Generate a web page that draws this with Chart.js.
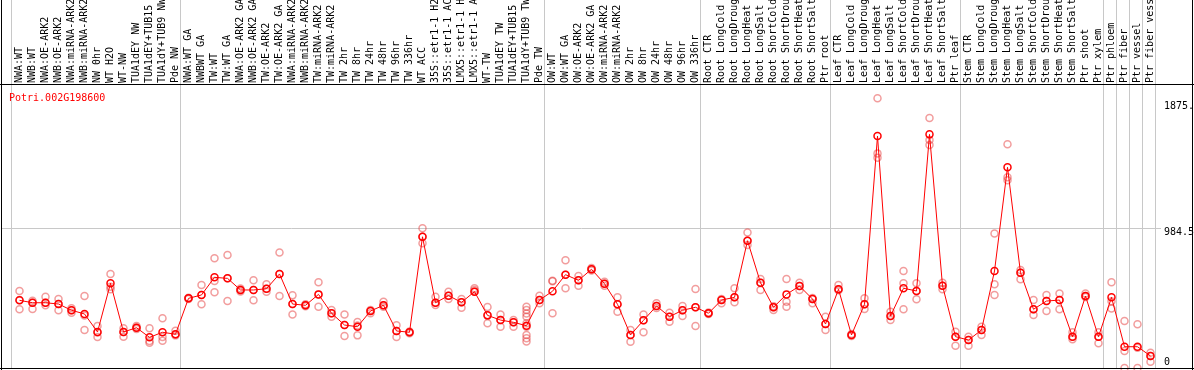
<!DOCTYPE html>
<html>
<head>
<meta charset="utf-8">
<script src="https://cdn.jsdelivr.net/npm/chart.js@4/dist/chart.umd.min.js"></script>
<style>
  body { margin: 0; background: #fff; }
  canvas { display: block; }
</style>
</head>
<body>
<canvas id="myChart" width="1194" height="370"></canvas>
<script>
// sample names (header)
const categories = [
  'NWA:WT', 'NWB:WT', 'NWA:OE-ARK2', 'NWB:OE-ARK2', 'NWA:miRNA-ARK2', 'NWB:miRNA-ARK2',
  'NW 0hr', 'WT H2O', 'WT-NW', 'TUA1dEY NW', 'TUA1dEY+TUB15', 'TUA1dY+TUB9 NW', 'Pde NW',
  'NWA:WT GA', 'NWBWT GA', 'TW:WT', 'TW:WT GA', 'NWA:OE-ARK2 GA', 'NWB:OE-ARK2 GA',
  'TW:OE-ARK2', 'TW:OE-ARK2 GA', 'NWA:miRNA-ARK2', 'NWB:miRNA-ARK2', 'TW:miRNA-ARK2', 'TW:miRNA-ARK2',
  'TW 2hr', 'TW 8hr', 'TW 24hr', 'TW 48hr', 'TW 96hr', 'TW 336hr', 'WT ACC',
  '35S::etr1-1 H2O', '35S::etr1-1 ACC', 'LMX5::etr1-1 H2O', 'LMX5::etr1-1 ACC',
  'WT-TW', 'TUA1dEY TW', 'TUA1dEY+TUB15', 'TUA1dY+TUB9 TW', 'Pde TW',
  'OW:WT', 'OW:WT GA', 'OW:OE-ARK2', 'OW:OE-ARK2 GA', 'OW:miRNA-ARK2', 'OW:miRNA-ARK2',
  'OW 2hr', 'OW 8hr', 'OW 24hr', 'OW 48hr', 'OW 96hr', 'OW 336hr',
  'Root CTR', 'Root LongCold', 'Root LongDrought', 'Root LongHeat', 'Root LongSalt',
  'Root ShortCold', 'Root ShortDrought', 'Root ShortHeat', 'Root ShortSalt', 'Ptr root',
  'Leaf CTR', 'Leaf LongCold', 'Leaf LongDrought', 'Leaf LongHeat', 'Leaf LongSalt',
  'Leaf ShortCold', 'Leaf ShortDrought', 'Leaf ShortHeat', 'Leaf ShortSalt', 'Ptr leaf',
  'Stem CTR', 'Stem LongCold', 'Stem LongDrought', 'Stem LongHeat', 'Stem LongSalt',
  'Stem ShortCold', 'Stem ShortDrought', 'Stem ShortHeat', 'Stem ShortSalt', 'Ptr shoot', 'Ptr xylem',
  'Ptr phloem', 'Ptr fiber', 'Ptr vessel', 'Ptr fiber vessel'
];

// mean expression per sample
const meanValues = [
  477, 460, 460, 451, 407, 381, 254, 597, 254, 284, 216, 252, 238,
  491, 515, 639, 632, 550, 550, 559, 663, 451, 442, 519, 386, 303, 291, 402, 442, 261, 252, 925,
  460, 510, 463, 538, 371, 338, 322, 298,
  479, 541, 658, 618, 696, 594, 449, 233, 336, 437, 362, 407, 428,
  386, 479, 498, 897, 601, 428, 519, 578, 486, 310,
  555, 233, 449, 1635, 366, 562, 543, 1647, 580, 221,
  197, 268, 684, 1415, 672, 414, 472, 479, 221, 507, 221,
  498, 150, 150, 85
];

// individual replicates per sample
const replicates = [
  [543, 479, 414], [474, 460, 416], [503, 460, 442], [486, 451, 407], [421, 407, 390],
  [507, 370, 268], [296, 250, 218], [663, 573, 555], [280, 254, 221], [296, 284, 275],
  [280, 190, 178], [350, 218, 192], [263, 238, 230],
  [495, 491, 486], [585, 515, 449], [773, 613, 534], [796, 632, 472], [560, 550, 540],
  [618, 550, 477], [590, 559, 538], [815, 663, 507], [512, 451, 378], [450, 442, 435],
  [604, 519, 432], [409, 386, 362], [378, 303, 226], [324, 300, 230], [409, 402, 386],
  [467, 442, 432], [301, 261, 218], [258, 252, 245], [985, 925, 879], [503, 460, 444],
  [538, 510, 486], [486, 463, 425], [562, 550, 538], [430, 371, 315], [378, 338, 291],
  [338, 322, 291], [432, 409, 385, 362, 315, 291, 233, 209, 186],
  [510, 479, 456], [615, 612, 386], [759, 658, 562], [648, 618, 580], [705, 696, 688],
  [608, 594, 580], [498, 449, 397], [268, 233, 185], [378, 336, 252], [456, 437, 423],
  [390, 362, 326], [437, 407, 366], [557, 428, 296],
  [392, 386, 380], [486, 479, 456], [562, 498, 463], [956, 897, 867], [627, 601, 550],
  [435, 428, 409], [627, 467, 432], [601, 578, 550], [493, 486, 456], [362, 310, 268],
  [585, 555, 548], [240, 233, 226], [491, 449, 416], [1901, 1513, 1482], [397, 366, 338],
  [684, 597, 414], [597, 543, 484], [1762, 1607, 1572], [601, 580, 555], [256, 221, 157],
  [221, 197, 157], [291, 268, 233], [949, 590, 514], [1577, 1345, 1323], [691, 672, 625],
  [479, 414, 374], [514, 472, 402], [526, 479, 414], [252, 221, 202], [526, 507, 500],
  [252, 221, 174],
  [604, 470, 420], [331, 120, 0], [308, 142, 0], [108, 85, 44]
];

const yTickValues = [0, 984.5, 1875];
const yTickLabels = ['0', '984.5', '1875.0'];
const groupStarts = [0, 13, 41, 53, 63, 73, 84, 85, 86, 87, 88];
const geneName = 'Potri.002G198600';

const FONT = '10px "DejaVu Sans Mono", monospace';

let meanPoints = meanValues.map((v, i) => ({ x: i, y: v }));
let repPoints = [];
replicates.forEach((reps, i) => {
  reps.forEach(v => repPoints.push({ x: i, y: v }));
});

// grid, header labels, frame and axis text
let decorations = {
  id: 'decorations',
  beforeDatasetsDraw(chart) {
    let ctx = chart.ctx;
    let xs = chart.scales.x;
    let ys = chart.scales.y;
    ctx.save();
    ctx.strokeStyle = '#c8c8c8';
    ctx.lineWidth = 1;
    groupStarts.forEach(k => {
      let px = Math.round(xs.getPixelForValue(k - 0.5)) - 2 + 0.5;
      ctx.beginPath();
      ctx.moveTo(px, 0);
      ctx.lineTo(px, 368);
      ctx.stroke();
    });
    let gy = Math.round(ys.getPixelForValue(984.5)) + 0.5;
    ctx.beginPath();
    ctx.moveTo(2, gy);
    ctx.lineTo(1161, gy);
    ctx.stroke();
    ctx.restore();
  },
  afterDraw(chart) {
    let ctx = chart.ctx;
    let xs = chart.scales.x;
    let ys = chart.scales.y;
    ctx.save();
    ctx.fillStyle = '#000';
    ctx.font = FONT;
    // rotated sample names in the header
    ctx.textAlign = 'left';
    ctx.textBaseline = 'middle';
    categories.forEach((name, i) => {
      ctx.save();
      ctx.translate(xs.getPixelForValue(i) - 0.5, 83);
      ctx.rotate(-Math.PI / 2);
      ctx.fillText(name, 0, 0);
      ctx.restore();
    });
    // y labels on the right
    yTickValues.forEach((v, i) => {
      let py = ys.getPixelForValue(v) + 4;
      if (py > 362) py = 362;
      ctx.fillText(yTickLabels[i], 1164, py);
    });
    // frame
    ctx.fillRect(1, 0, 1, 370);
    ctx.fillRect(1192, 0, 1, 370);
    ctx.fillRect(0, 84, 1194, 1);
    ctx.fillRect(0, 368, 1194, 1);
    // gene name
    ctx.fillStyle = '#ff0000';
    ctx.fillText(geneName, 9, 98);
    ctx.restore();
  }
};

let ctx = document.getElementById('myChart').getContext('2d');
let chart = new Chart(ctx, {
  type: 'line',
  data: {
    datasets: [{
      label: 'mean',
      data: meanPoints,
      borderColor: '#ff0000',
      borderWidth: 1,
      pointRadius: 3.5,
      pointBorderWidth: 1.5,
      pointBorderColor: '#ff0000',
      pointBackgroundColor: 'rgba(0,0,0,0)',
      order: 0,
      clip: false
    }, {
      label: 'replicates',
      data: repPoints,
      showLine: false,
      pointRadius: 3.5,
      pointBorderWidth: 1.5,
      pointBorderColor: 'rgba(230, 60, 60, 0.5)',
      pointBackgroundColor: 'rgba(0,0,0,0)',
      order: 1,
      clip: false
    }]
  },
  options: {
    responsive: false,
    animation: false,
    devicePixelRatio: 1,
    layout: { autoPadding: false, padding: { left: 13, right: 37, top: 86, bottom: 2 } },
    plugins: { legend: { display: false }, tooltip: { enabled: false } },
    scales: {
      x: { type: 'linear', min: -0.5, max: categories.length - 0.5, display: false },
      y: { min: 0, max: 1988, display: false }
    }
  },
  plugins: [decorations]
});
</script>
</body>
</html>
